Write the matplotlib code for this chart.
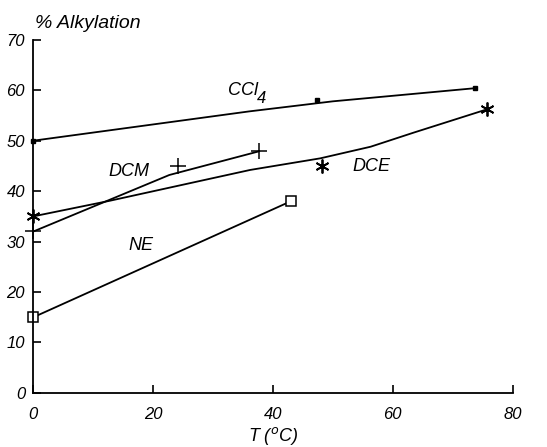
import matplotlib.pyplot as plt

plt.rcParams['font.family'] = ['Liberation Sans', 'DejaVu Sans']

# measured points
ccl4_t = [0, 47.4, 73.7]
ccl4_y = [50, 58.1, 60.4]
dce_t = [0, 48.2, 75.7]
dce_y = [35, 44.9, 56.2]
dcm_t = [0, 24.2, 37.7]
dcm_y = [32, 44.9, 47.9]
ne_t = [0, 43.0]
ne_y = [15, 38.0]

# hand drawn trend lines
ccl4_fit_t = [0, 36, 50, 73.7]
ccl4_fit_y = [50, 55.8, 57.8, 60.4]
dce_fit_t = [0, 12.8, 36.2, 47.9, 56.3, 63.5, 75.7]
dce_fit_y = [35, 38.1, 44.2, 46.5, 48.8, 51.6, 56.2]
dcm_fit_t = [0, 22.7, 37.7]
dcm_fit_y = [32, 43.2, 47.9]
ne_fit_t = [0, 43.0]
ne_fit_y = [15, 38.0]

fig = plt.figure(figsize=(5.47, 4.47), dpi=100)
ax = fig.add_axes([0.061, 0.121, 0.876, 0.79])

lw = 1.3
ax.plot(ccl4_fit_t, ccl4_fit_y, color='black', lw=lw)
ax.plot(dce_fit_t, dce_fit_y, color='black', lw=lw)
ax.plot(dcm_fit_t, dcm_fit_y, color='black', lw=lw)
ax.plot(ne_fit_t, ne_fit_y, color='black', lw=lw)

ax.plot(ccl4_t, ccl4_y, ls='none', marker='s', ms=3.5, color='black', clip_on=False)
ax.plot(dce_t, dce_y, ls='none', marker=(6, 2, 0), ms=10, mew=1.3, color='black', clip_on=False)
ax.plot(dcm_t, dcm_y, ls='none', marker='+', ms=11, mew=1.1, color='black', clip_on=False)
ax.plot(ne_t, ne_y, ls='none', marker='s', ms=7, mfc='white', mec='black', mew=1.1, clip_on=False)

# series labels
ax.text(35, 60, 'CCl', fontsize=13, style='italic', ha='center', va='center')
ax.text(37.4, 58.3, '4', fontsize=12, style='italic', ha='left', va='center')
ax.text(16, 43.8, 'DCM', fontsize=13, style='italic', ha='center', va='center')
ax.text(56.5, 44.8, 'DCE', fontsize=13, style='italic', ha='center', va='center')
ax.text(18, 29.3, 'NE', fontsize=13, style='italic', ha='center', va='center')

ax.set_xlim(0, 80)
ax.set_ylim(0, 70)
ax.set_xticks([0, 20, 40, 60, 80])
ax.set_yticks(range(0, 71, 10))
ax.spines['top'].set_visible(False)
ax.spines['right'].set_visible(False)
ax.spines['left'].set_linewidth(1.3)
ax.spines['bottom'].set_linewidth(1.3)
ax.tick_params(direction='in', length=6, width=1.2, labelsize=12)
ax.tick_params(axis='x', pad=10)
ax.tick_params(axis='y', pad=6)
for lab in ax.get_xticklabels() + ax.get_yticklabels():
    lab.set_style('italic')

ax.set_xlabel('T ($^o$C)', fontsize=13, style='italic', labelpad=2)
fig.text(0.064, 0.948, '% Alkylation', fontsize=14, style='italic', ha='left', va='center')

fig.savefig('out.png', dpi=100)
